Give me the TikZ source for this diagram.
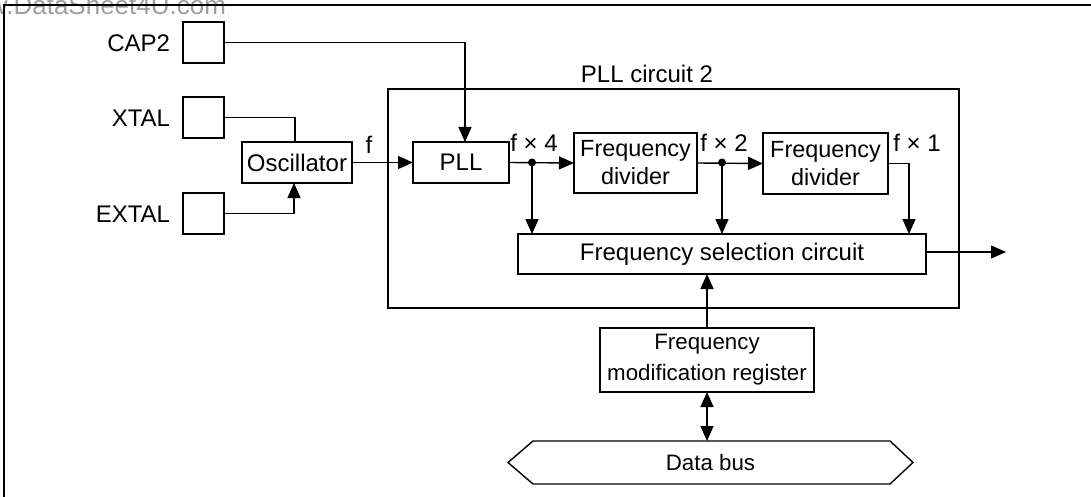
\documentclass[tikz,border=0pt]{standalone}
\usepackage{fontspec}
\setmainfont{Liberation Sans}
\usetikzlibrary{arrows.meta}
\begin{document}
\begin{tikzpicture}[x=1pt,y=-1pt,
  every node/.style={inner sep=0pt, outer sep=0pt, font=\fontsize{24}{28}\selectfont},
  box/.style={draw, line width=1.4pt, align=center},
  pin/.style={box, minimum width=41pt, minimum height=41pt},
  wire/.style={line width=1.4pt},
  arr/.style={wire, -{Triangle[length=15pt,width=13pt]}},
  darr/.style={wire, {Triangle[length=15pt,width=13pt]}-{Triangle[length=15pt,width=13pt]}},
  dot/.style={circle, fill, minimum size=8pt},
  smallfont/.style={font=\fontsize{22.3}{31}\selectfont}]
\useasboundingbox (0,0) rectangle (1091,497);
% page frame and watermark
\node[anchor=base west, text=black!38, font=\fontsize{26}{30}\selectfont] (wm) at (-11,14.5) {w.DataSheet4U.com};
\coordinate (fbl) at (4,497);
\coordinate (ftl) at (4,5);
\coordinate (ftr) at (1091,5);
\draw[line width=1.4pt] (fbl) -- (ftl) -- (ftr);
% pins
\node[pin] (cap2) at (203.5,42.5) {};
\node[pin] (xtal) at (203.5,117.5) {};
\node[pin] (extal) at (203.5,213.5) {};
\node[anchor=east] (cap2l) at (170,43) {CAP2};
\node[anchor=east] (xtall) at (170,118) {XTAL};
\node[anchor=east] (extall) at (170,214) {EXTAL};
% PLL circuit frame
\node[box, minimum width=571pt, minimum height=219pt] (pllc) at (673.5,198.5) {};
\node (pllcl) at (647,73.5) {PLL circuit 2};
% blocks
\node[box, minimum width=110pt, minimum height=41pt] (osc) at (297,162.5) {Oscillator};
\node[box, minimum width=96pt, minimum height=41pt] (pll) at (461,162.5) {PLL};
\node[box, minimum width=123pt, minimum height=60pt, font=\fontsize{23.4}{28}\selectfont] (div1) at (635.5,163) {Frequency\\divider};
\node[box, minimum width=125pt, minimum height=61pt, font=\fontsize{23.4}{28}\selectfont] (div2) at (825.5,163.5) {Frequency\\divider};
\node[box, minimum width=408pt, minimum height=40pt] (sel) at (722,254) {Frequency selection circuit};
\node[box, smallfont, minimum width=214pt, minimum height=64pt] (reg) at (707,360) {Frequency\\modification register};
\node[smallfont, minimum width=405pt, minimum height=43pt] (bus) at (710.5,462.5) {Data bus};
\draw[line width=1.4pt] (bus.west) -- ([xshift=25pt]bus.north west) -- ([xshift=-23pt]bus.north east)
  -- (bus.east) -- ([xshift=-23pt]bus.south east) -- ([xshift=25pt]bus.south west) -- cycle;
% labels
\node (lf) at (369,145) {f};
\node (lf4) at (534,143) {f × 4};
\node (lf2) at (724,143) {f × 2};
\node (lf1) at (917,143) {f × 1};
% dots
\node[dot] (d1) at (532,162.5) {};
\node[dot] (d2) at (722,162.5) {};
\coordinate (out) at (1006,252);
% connectors
\draw[arr] (cap2.east) -| ([xshift=4pt]pll.north);
\draw[wire] (xtal.east) -| ([xshift=-2pt]osc.north);
\draw[arr] (extal.east) -| ([xshift=-3pt]osc.south);
\draw[arr] (osc.east) -- (pll.west);
\draw[arr] (pll.east) -- (div1.west);
\draw[arr] (d1.center) -- (d1.center |- sel.north);
\draw[arr] (div1.east) -- (div2.west);
\draw[arr] (d2.center) -- (d2.center |- sel.north);
\draw[arr] (div2.east) -| ([xshift=187pt]sel.north);
\draw[arr] (sel.east |- out) -- (out);
\draw[arr] (reg.north) -- (reg.north |- sel.south);
\draw[darr] (reg.south) -- (reg.south |- bus.north);
\end{tikzpicture}
\end{document}
